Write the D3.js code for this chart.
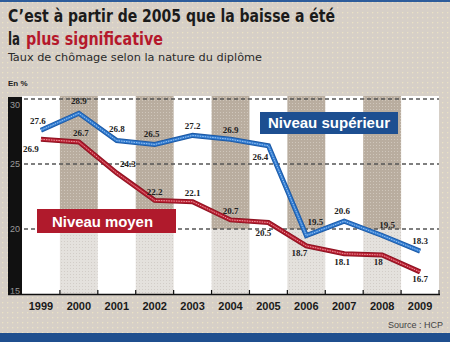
<!DOCTYPE html>
<html>
<head>
<meta charset="utf-8">
<script src="https://cdn.jsdelivr.net/npm/d3@7"></script>
<style>
  html, body { margin: 0; padding: 0; background: #d7d0c8; }
  svg { display: block; }
</style>
</head>
<body>
<svg id="chart" width="450" height="342"></svg>
<script>
// ---- data ----
const years = [1999, 2000, 2001, 2002, 2003, 2004, 2005, 2006, 2007, 2008, 2009];
const superieur = [27.6, 28.9, 26.8, 26.5, 27.2, 26.9, 26.4, 19.5, 20.6, 19.5, 18.3];
const moyen = [26.9, 26.7, 24.3, 22.2, 22.1, 20.7, 20.5, 18.7, 18.1, 18, 16.7];
const yTickValues = [15, 20, 25, 30];
const gridValues = [20, 25, 30];
const shadedYears = [2000, 2002, 2004, 2006, 2008];

// label placement (offsets from the point, in px)
const supLabelOffsets = [[-3,-6],[0,-9],[0,-9],[-3,-8],[0,-6],[0,-6],[-8,14],[9,-11],[-2,-7],[5,-8],[0,-7]];
const moyLabelOffsets = [[-10,13],[2,-6],[11,-6],[0,-5],[0,-6],[0,-6],[-5,13],[-7,10],[-2,11],[-4,10],[0,10]];

const svg = d3.select("#chart");
const W = 450, H = 342;

// ---- background pattern ----
const defs = svg.append("defs");
const bgPat = defs.append("pattern").attr("id","bgdots").attr("width",5).attr("height",5).attr("patternUnits","userSpaceOnUse");
bgPat.append("rect").attr("width",5).attr("height",5).attr("fill","#d6cfc7");
bgPat.append("rect").attr("x",2).attr("y",2).attr("width",1.3).attr("height",1.3).attr("fill","#ebe3c4");
const bandPat = defs.append("pattern").attr("id","banddots").attr("width",3).attr("height",3).attr("patternUnits","userSpaceOnUse");
bandPat.append("rect").attr("width",3).attr("height",3).attr("fill","#b9ad9f");
bandPat.append("rect").attr("x",1).attr("y",1).attr("width",1).attr("height",1).attr("fill","#cfc6bb");
const bandPat2 = defs.append("pattern").attr("id","banddots2").attr("width",3).attr("height",3).attr("patternUnits","userSpaceOnUse");
bandPat2.append("rect").attr("width",3).attr("height",3).attr("fill","#e4e1dd");
bandPat2.append("rect").attr("x",1).attr("y",1).attr("width",1).attr("height",1).attr("fill","#d2cdc8");

svg.append("rect").attr("width",W).attr("height",H).attr("fill","url(#bgdots)");
svg.append("rect").attr("x",0).attr("y",0).attr("width",W).attr("height",2).attr("fill","#2d5c9b");
svg.append("rect").attr("x",0).attr("y",333).attr("width",W).attr("height",9).attr("fill","#1f4f8f");

// ---- titles ----
const titleFont = "'Liberation Sans Narrow','DejaVu Sans Condensed',sans-serif";
svg.append("text").attr("x",8).attr("y",22)
  .attr("font-family",titleFont)
  .attr("font-weight","bold").attr("font-size",17.5).attr("fill","#1b1b1b")
  .attr("textLength",327).attr("lengthAdjust","spacingAndGlyphs")
  .text("C’est à partir de 2005 que la baisse a été");
svg.append("text").attr("x",8).attr("y",45)
  .attr("font-family",titleFont)
  .attr("font-weight","bold").attr("font-size",17.5).attr("fill","#1b1b1b")
  .attr("textLength",12).attr("lengthAdjust","spacingAndGlyphs")
  .text("la");
svg.append("text").attr("x",26).attr("y",45)
  .attr("font-family",titleFont)
  .attr("font-weight","bold").attr("font-size",17.5).attr("fill","#b5182b")
  .attr("textLength",137).attr("lengthAdjust","spacingAndGlyphs")
  .text("plus significative");

svg.append("text").attr("x",8).attr("y",61)
  .attr("font-family",titleFont)
  .attr("font-size",10.5).attr("fill","#2a2a2a")
  .attr("textLength",254).attr("lengthAdjust","spacingAndGlyphs")
  .text("Taux de chômage selon la nature du diplôme");

svg.append("text").attr("x",8).attr("y",86)
  .attr("font-family","'Liberation Sans',Arial,sans-serif")
  .attr("font-weight","bold").attr("font-size",8).attr("fill","#222")
  .text("En %");

svg.append("text").attr("x",443).attr("y",328).attr("text-anchor","end")
  .attr("font-family","'Liberation Sans',Arial,sans-serif")
  .attr("font-size",9).attr("fill","#444")
  .text("Source : HCP");

// ---- scales ----
const plotLeft = 22, plotRight = 439, plotTop = 96, plotBottom = 294;
const x = d3.scaleBand().domain(years).range([plotLeft, plotRight]).padding(0);
const y = d3.scaleLinear().domain([15, 30]).range([294, 99]);
const cx = d => x(d) + x.bandwidth()/2;

// plot background
svg.append("rect").attr("x",plotLeft).attr("y",plotTop).attr("width",plotRight-plotLeft).attr("height",plotBottom-plotTop).attr("fill","#ffffff");

// shaded bands
svg.append("g").selectAll("rect").data(shadedYears).join("rect")
  .attr("x", d => x(d)).attr("y", plotTop).attr("width", x.bandwidth()).attr("height", y(20) - plotTop)
  .attr("fill","url(#banddots)");
svg.append("g").selectAll("rect").data(shadedYears).join("rect")
  .attr("x", d => x(d)).attr("y", y(20)).attr("width", x.bandwidth()).attr("height", plotBottom - y(20))
  .attr("fill","url(#banddots2)");

// gridlines
svg.append("g").selectAll("line").data(gridValues).join("line")
  .attr("x1", plotLeft+2).attr("x2", plotRight).attr("y1", d => y(d)).attr("y2", d => y(d))
  .attr("stroke","#555").attr("stroke-width",1.3).attr("stroke-dasharray","4,3");

// left black bar + y axis
svg.append("rect").attr("x",8).attr("y",plotTop+1).attr("width",14).attr("height",plotBottom-plotTop-1).attr("fill","#111");
const yAxis = svg.append("g").attr("transform",`translate(${plotLeft-1},0)`)
  .call(d3.axisLeft(y).tickValues(yTickValues).tickSize(0).tickPadding(1));
yAxis.select(".domain").remove();
yAxis.selectAll("text")
  .attr("font-family","'Liberation Sans Narrow','Liberation Sans',sans-serif")
  .attr("font-size",9).attr("fill","#9a9a9a")
  .attr("dy", d => d === 30 ? "0.9em" : (d === 15 ? "-0.05em" : "0.32em"));

// x axis
const xAxis = svg.append("g").attr("transform",`translate(0,${plotBottom})`)
  .call(d3.axisBottom(x).tickSize(0).tickPadding(8));
xAxis.select(".domain").remove();
xAxis.selectAll("text")
  .attr("font-family","'Liberation Sans',Arial,sans-serif")
  .attr("font-weight","bold").attr("font-size",11).attr("fill","#1a1a1a");
svg.append("line").attr("x1",8).attr("x2",plotRight+1).attr("y1",plotBottom+0.5).attr("y2",plotBottom+0.5)
  .attr("stroke","#111").attr("stroke-width",1.5);
svg.append("g").selectAll("line").data(years.slice(1).concat(["end"])).join("line")
  .attr("x1", d => d === "end" ? plotRight : x(d)).attr("x2", d => d === "end" ? plotRight : x(d))
  .attr("y1", plotBottom - 4).attr("y2", plotBottom)
  .attr("stroke","#111").attr("stroke-width",1.2);

// ---- lines ----
const line = d3.line().x((d,i) => cx(years[i])).y(d => y(d));
function drawSeries(vals, dark, mid, light) {
  svg.append("path").datum(vals).attr("d", line).attr("fill","none")
    .attr("stroke", dark).attr("stroke-width", 5).attr("stroke-linejoin","miter");
  svg.append("path").datum(vals).attr("d", line).attr("fill","none")
    .attr("stroke", mid).attr("stroke-width", 3).attr("stroke-linejoin","miter");
  svg.append("path").datum(vals).attr("d", line).attr("fill","none")
    .attr("stroke", light).attr("stroke-width", 0.9).attr("stroke-dasharray","1.5,1").attr("stroke-linejoin","miter");
}
drawSeries(moyen, "#8e1322", "#b81e30", "#f0a8b0");
drawSeries(superieur, "#1d5aa6", "#2f7ad0", "#a9cdf3");

// ---- value labels ----
function drawLabels(vals, offsets) {
  svg.append("g").selectAll("text").data(vals).join("text")
    .attr("x", (d,i) => cx(years[i]) + offsets[i][0])
    .attr("y", (d,i) => y(d) + offsets[i][1])
    .attr("text-anchor","middle")
    .attr("font-family","'Liberation Serif','DejaVu Serif',serif")
    .attr("font-weight","bold").attr("font-size",9).attr("fill","#222")
    .text(d => String(d));
}
drawLabels(superieur, supLabelOffsets);
drawLabels(moyen, moyLabelOffsets);

// ---- legend boxes ----
svg.append("rect").attr("x",260).attr("y",112).attr("width",138).attr("height",22).attr("fill","#1d4f91");
svg.append("text").attr("x",268).attr("y",128)
  .attr("font-family","'Liberation Sans',Arial,sans-serif")
  .attr("font-weight","bold").attr("font-size",14).attr("fill","#ffffff")
  .attr("textLength",122).attr("lengthAdjust","spacingAndGlyphs")
  .text("Niveau supérieur");
svg.append("rect").attr("x",37).attr("y",209).attr("width",139).attr("height",24).attr("fill","#b01a2c");
svg.append("text").attr("x",52).attr("y",226.5)
  .attr("font-family","'Liberation Sans',Arial,sans-serif")
  .attr("font-weight","bold").attr("font-size",15).attr("fill","#ffffff")
  .attr("textLength",101).attr("lengthAdjust","spacingAndGlyphs")
  .text("Niveau moyen");
</script>
</body>
</html>
